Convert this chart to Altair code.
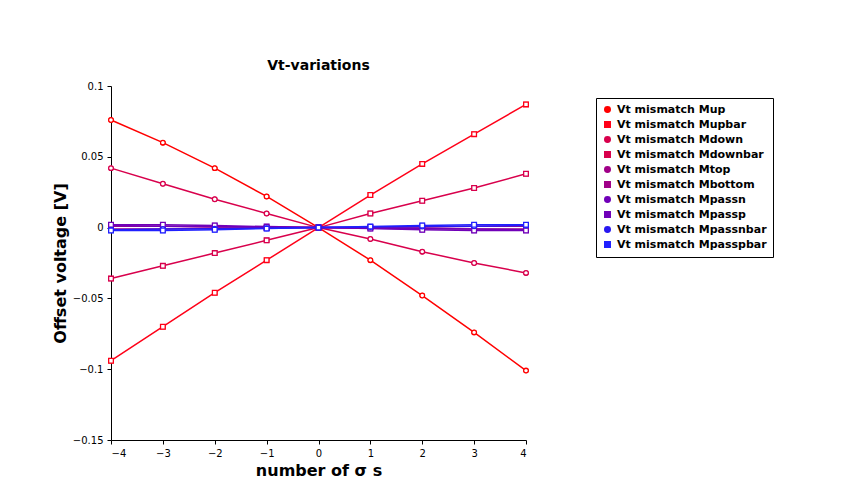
import pandas as pd
import altair as alt

sigma = [-4, -3, -2, -1, 0, 1, 2, 3, 4]
names = ["Vt mismatch Mup", "Vt mismatch Mupbar", "Vt mismatch Mdown", "Vt mismatch Mdownbar",
         "Vt mismatch Mtop", "Vt mismatch Mbottom", "Vt mismatch Mpassn", "Vt mismatch Mpassp",
         "Vt mismatch Mpassnbar", "Vt mismatch Mpasspbar"]
mup = [0.076, 0.060, 0.042, 0.022, 0, -0.023, -0.048, -0.074, -0.101]
mupbar = [-0.094, -0.070, -0.046, -0.023, 0, 0.023, 0.045, 0.066, 0.087]
mdown = [0.042, 0.031, 0.020, 0.010, 0, -0.008, -0.017, -0.025, -0.032]
mdownbar = [-0.036, -0.027, -0.018, -0.009, 0, 0.010, 0.019, 0.028, 0.038]
mtop = [0.001, 0.001, 0.0005, 0.0003, 0, -0.0003, -0.0005, -0.001, -0.001]
mbottom = [-0.001, -0.001, -0.0005, -0.0003, 0, 0.0003, 0.0005, 0.001, 0.001]
mpassn = [0.0015, 0.001, 0.0008, 0.0004, 0, -0.0004, -0.0008, -0.001, -0.0015]
mpassp = [0.002, 0.002, 0.0015, 0.0007, 0, -0.0007, -0.0015, -0.002, -0.002]
mpassnbar = [-0.0015, -0.001, -0.0008, -0.0004, 0, 0.0004, 0.0008, 0.001, 0.0015]
mpasspbar = [-0.002, -0.002, -0.0015, -0.0007, 0, 0.0007, 0.0015, 0.002, 0.002]
series = [mup, mupbar, mdown, mdownbar, mtop, mbottom, mpassn, mpassp, mpassnbar, mpasspbar]
colors = ["#ff0000", "#ff0018", "#d8004c", "#d8004c", "#a00088", "#a00088",
          "#7000b8", "#7000b8", "#2818f0", "#2020ff"]
shapes = ["circle", "square"] * 5

rows = []
for i, (n, vals) in enumerate(zip(names, series)):
    for s, v in zip(sigma, vals):
        rows.append({"name": n, "sigma": s, "v": v, "order": i})
df = pd.DataFrame(rows)

base = alt.Chart(df).encode(
    x=alt.X("sigma:Q", scale=alt.Scale(domain=[-4, 4]), title="number of σ s",
            axis=alt.Axis(values=sigma, grid=False)),
    y=alt.Y("v:Q", scale=alt.Scale(domain=[-0.15, 0.1]), title="Offset voltage [V]",
            axis=alt.Axis(values=[-0.15, -0.1, -0.05, 0, 0.05, 0.1], grid=False,
                          labelExpr="format(datum.value, '~g')")),
    color=alt.Color("name:N", scale=alt.Scale(domain=names, range=colors),
                    legend=alt.Legend(title=None, orient="none", legendX=485, legendY=12,
                                      fillColor="white", strokeColor="black", padding=6,
                                      labelFontSize=11, labelFontWeight="bold",
                                      labelFont="DejaVu Sans", labelLimit=300,
                                      symbolFillColor="white",
                                      symbolStrokeWidth=1.5, symbolSize=30, rowPadding=2)),
    shape=alt.Shape("name:N", scale=alt.Scale(domain=names, range=shapes)),
    detail="name:N",
)

lines = base.mark_line(strokeWidth=1.5)
points = base.mark_point(size=22, filled=False, fill="white", fillOpacity=1, strokeWidth=1.3)

chart = (alt.layer(lines, points)
    .properties(width=415, height=354, autosize="none",
                padding={"left": 103, "top": 78, "right": 320, "bottom": 46},
                title=alt.Title("Vt-variations", fontSize=14, fontWeight="bold",
                                font="DejaVu Sans", offset=8))
    .configure_view(stroke=None)
    .configure_axis(domainColor="black", tickColor="black", labelColor="black",
                    labelFont="DejaVu Sans", labelFontSize=10, titleFont="DejaVu Sans",
                    titleFontSize=16, titleFontWeight="bold", titleColor="black",
                    tickSize=4, labelPadding=4)
)

chart.save("out.html", embed_options={"renderer": "svg", "actions": False})
